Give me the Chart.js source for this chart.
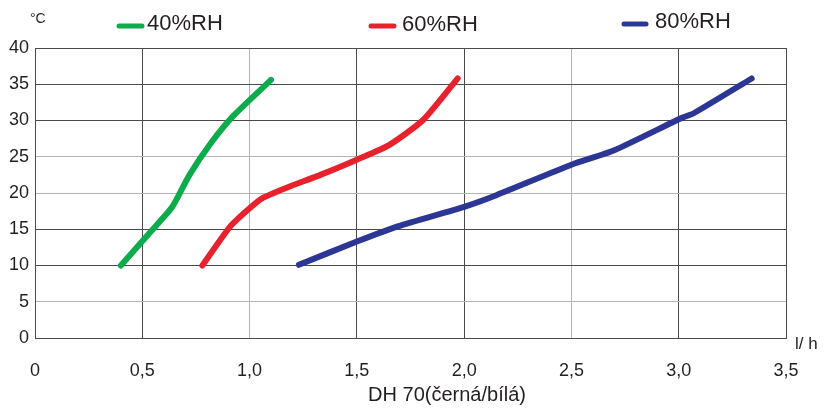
<!DOCTYPE html>
<html>
<head>
<meta charset="utf-8">
<script src="https://cdn.jsdelivr.net/npm/chart.js@4"></script>
<style>
  html, body { margin: 0; padding: 0; background: #fff; }
  #box { width: 827px; height: 408px; position: relative; }
</style>
</head>
<body>
<div id="box"><canvas id="grafico"></canvas></div>
<script>
// datos (l/h vs °C)
const rh40X = [0.40, 0.54, 0.64, 0.72, 0.82, 0.92, 1.10]
const rh40Y = [10.0, 14.7, 18.1, 22.5, 26.9, 30.5, 35.6]
const rh60X = [0.78, 0.91, 1.00, 1.06, 1.17, 1.33, 1.50, 1.65, 1.81, 1.97]
const rh60Y = [10.0, 15.4, 17.9, 19.3, 20.7, 22.5, 24.6, 26.6, 30.1, 35.8]
const rh80X = [1.23, 1.50, 1.69, 2.00, 2.15, 2.50, 2.70, 3.01, 3.07, 3.34]
const rh80Y = [10.1, 13.3, 15.4, 18.1, 19.7, 23.9, 25.9, 30.3, 31.0, 35.8]
const xTicks = ['0', '0,5', '1,0', '1,5', '2,0', '2,5', '3,0', '3,5']
const yTicks = [0, 5, 10, 15, 20, 25, 30, 35, 40]
const series = ['40%RH', '60%RH', '80%RH']
const colores = ['#0cab4b', '#e8222c', '#2c3694']

const canvas = document.querySelector('#grafico')

function puntos(xs, ys) {
    return xs.map((x, i) => ({ x: x, y: ys[i] }))
}

const oscuro = '#4a4a4a'
const claro = '#b4b4b4'

// leyenda y textos sueltos dibujados a mano
const textos = {
    id: 'textos',
    afterDraw(chart) {
        const ctx = chart.ctx
        ctx.save()
        const leyenda = [
            { x1: 119, x2: 142, y: 26, tx: 147, ty: 24 },
            { x1: 371, x2: 394, y: 26, tx: 402, ty: 25 },
            { x1: 624, x2: 646, y: 24, tx: 655, ty: 22 }
        ]
        leyenda.forEach((l, i) => {
            ctx.strokeStyle = colores[i]
            ctx.lineWidth = 5
            ctx.lineCap = 'round'
            ctx.beginPath()
            ctx.moveTo(l.x1, l.y)
            ctx.lineTo(l.x2, l.y)
            ctx.stroke()
            ctx.fillStyle = '#231f20'
            ctx.font = '22px "Liberation Sans", Arial, sans-serif'
            ctx.textAlign = 'left'
            ctx.textBaseline = 'middle'
            ctx.fillText(series[i], l.tx, l.ty)
        })
        ctx.fillStyle = '#231f20'
        ctx.font = '14px "Liberation Sans", Arial, sans-serif'
        ctx.fillText('°C', 30, 19)
        ctx.font = '17px "Liberation Sans", Arial, sans-serif'
        ctx.fillText('l/ h', 795, 344)
        ctx.font = '20px "Liberation Sans", Arial, sans-serif'
        ctx.textAlign = 'center'
        ctx.fillText('DH 70(černá/bílá)', 447, 395)
        ctx.restore()
    }
}

const config = {
    type: 'line',
    data: {
        datasets: [
            { label: series[0], data: puntos(rh40X, rh40Y), borderColor: colores[0] },
            { label: series[1], data: puntos(rh60X, rh60Y), borderColor: colores[1] },
            { label: series[2], data: puntos(rh80X, rh80Y), borderColor: colores[2] }
        ].map(d => Object.assign(d, {
            borderWidth: 6,
            borderCapStyle: 'round',
            borderJoinStyle: 'round',
            pointRadius: 0,
            tension: 0.2,
            fill: false
        }))
    },
    options: {
        responsive: true,
        maintainAspectRatio: false,
        animation: false,
        layout: { padding: { left: 0, right: 41, top: 48, bottom: 0 } },
        plugins: {
            legend: { display: false },
            tooltip: { enabled: false }
        },
        scales: {
            x: {
                type: 'linear',
                min: 0,
                max: 3.5,
                afterFit: (s) => { s.height = 70 },
                afterBuildTicks: (s) => { s.ticks = xTicks.map((t, i) => ({ value: i * 0.5 })) },
                border: { color: oscuro, width: 1 },
                grid: {
                    drawTicks: false,
                    lineWidth: 1,
                    color: (c) => (c.tick && (c.tick.value === 1 || c.tick.value === 2.5)) ? claro : oscuro
                },
                ticks: {
                    padding: 22,
                    color: '#231f20',
                    font: { family: '"Liberation Sans", Arial, sans-serif', size: 18 },
                    callback: (v, i) => xTicks[i]
                }
            },
            y: {
                type: 'linear',
                min: 0,
                max: 40,
                afterFit: (s) => { s.width = 35 },
                afterBuildTicks: (s) => { s.ticks = yTicks.map(v => ({ value: v })) },
                border: { color: oscuro, width: 1 },
                grid: {
                    drawTicks: false,
                    lineWidth: 1,
                    color: (c) => (c.tick && [5, 20, 25].includes(c.tick.value)) ? claro : oscuro
                },
                ticks: {
                    padding: 6,
                    color: '#231f20',
                    font: { family: '"Liberation Sans", Arial, sans-serif', size: 18 }
                }
            }
        }
    },
    plugins: [textos]
}

new Chart(canvas, config)
</script>
</body>
</html>
